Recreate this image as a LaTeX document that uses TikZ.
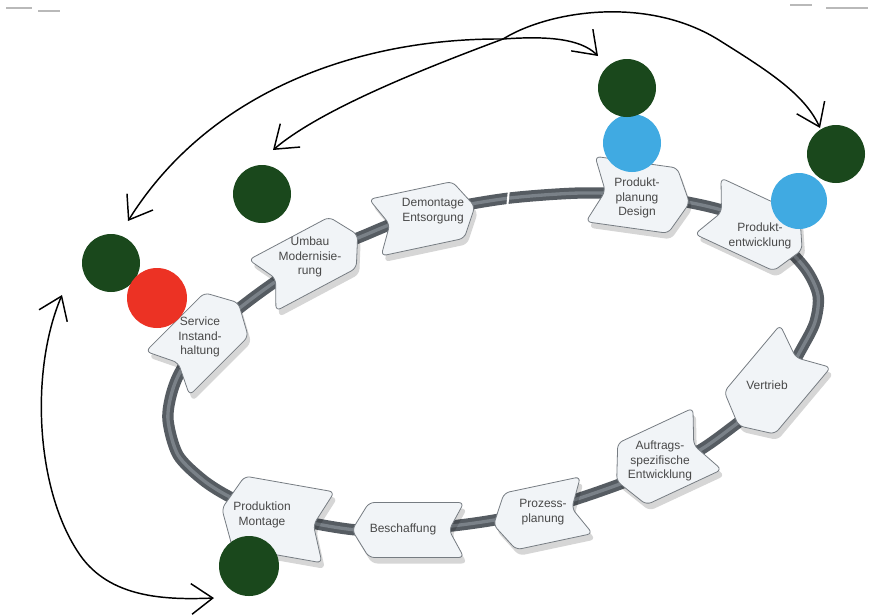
\documentclass[tikz,border=0pt]{standalone}
\usepackage{fontspec}
\setmainfont{Liberation Sans}
\usetikzlibrary{arrows.meta}
\definecolor{dgreen}{RGB}{26,72,28}
\definecolor{lblue}{RGB}{64,170,226}
\definecolor{cred}{RGB}{236,50,36}
\definecolor{ringdark}{RGB}{86,92,98}
\definecolor{ringlight}{RGB}{122,129,136}
\definecolor{chevfill}{RGB}{241,244,247}
\definecolor{chevline}{RGB}{118,124,130}
\definecolor{txt}{RGB}{72,72,72}
\tikzset{
  chevbody/.style={fill=chevfill, draw=chevline, line width=0.6pt, rounded corners=4pt},
  chevshadow/.style={fill=black, opacity=0.16, rounded corners=4pt},
  lbl/.style={font=\fontsize{9}{11}\selectfont, text=txt, align=center, inner sep=0pt},
  circ/.style={circle, inner sep=0pt, draw=none, minimum size=#1},
  hbarb/.tip={Straight Barb[length=16pt,width=23pt]},
  conn/.style={draw=black, line width=1.1pt, line cap=round, -{hbarb}},
  dconn/.style={draw=black, line width=1.1pt, line cap=round, {hbarb}-{hbarb}}
}
% width, height
\newcommand{\chevpath}[2]{({-#1/2},{#2/2}) -- ({#1/2-17},{#2/2}) -- ({#1/2},0) -- ({#1/2-17},{-#2/2}) -- ({-#1/2},{-#2/2}) -- ({-#1/2+15},0) -- cycle}
% x, y, angle, width, height
\newcommand{\chevron}[5]{%
  \begin{scope}[shift={({#1+3},{#2+6})},rotate=#3]
    \fill[chevshadow] \chevpath{#4}{#5};
  \end{scope}
  \begin{scope}[shift={(#1,#2)},rotate=#3]
    \draw[chevbody] \chevpath{#4}{#5};
  \end{scope}}
\begin{document}
\begin{tikzpicture}[x=0.75pt,y=-0.75pt]
\useasboundingbox (0,0) rectangle (870,615);
\fill[white] (0,0) rectangle (870,615);
% header marks
\draw[gray!55, line width=1.2pt] (6,8) -- (32,8);
\draw[gray!55, line width=0.8pt] (38,11) -- (60,11);
\draw[gray!55, line width=0.8pt] (790,5) -- (812,5);
\draw[gray!55, line width=0.8pt] (826,8) -- (868,8);
% ring
\def\ringpts{(450,208) (510,198) (580,193) (640,195) (687,202) (730,213) (775,238) (805,268) (818,295) (815,322) (802,348) (783,380) (760,405) (735,425) (700,450) (660,468) (620,484) (580,498) (540,510) (500,519) (460,525) (410,530) (357,530) (307,522) (262,510) (230,497) (203,480) (178,455) (168,420) (172,392) (183,367) (210,333) (250,300) (290,272) (330,250) (365,235) (400,221)}
\draw[ringdark, line width=8.5pt] plot[smooth cycle, tension=0.5] coordinates {\ringpts};
\draw[ringlight, line width=2.5pt] plot[smooth cycle, tension=0.5] coordinates {\ringpts};
\draw[white, line width=1.5pt] (509,189) -- (507,209);
% chevrons
\chevron{203}{338}{45}{100}{62}
\chevron{310}{260}{28}{108}{58}
\chevron{425}{217}{12}{102}{58}
\chevron{640}{196}{-8}{100}{66}
\chevron{755}{228}{-25}{104}{62}
\chevron{772}{386}{-130}{104}{66}
\chevron{662}{460}{205}{100}{68}
\chevron{540}{515}{192}{95}{58}
\chevron{408}{530}{180}{112}{55}
\chevron{275}{518}{170}{108}{72}
% labels
\node[lbl] (service) at (200,337) {Service\\Instand-\\haltung};
\node[lbl] (umbau) at (310,257) {Umbau\\Modernisie-\\rung};
\node[lbl] (demontage) at (433,211) {Demontage\\Entsorgung};
\node[lbl] (planung) at (637,198) {Produkt-\\planung\\Design};
\node[lbl] (entwicklung) at (760,236) {Produkt-\\entwicklung};
\node[lbl] (vertrieb) at (767,385) {Vertrieb};
\node[lbl] (auftrag) at (660,461) {Auftrags-\\spezifische\\Entwicklung};
\node[lbl] (prozess) at (543,512) {Prozess-\\planung};
\node[lbl] (beschaffung) at (403,529) {Beschaffung};
\node[lbl] (produktion) at (262,515) {Produktion\\Montage};
% circles
\node[circ=43.5pt, fill=lblue] (b1) at (632,143) {};
\node[circ=43.5pt, fill=dgreen] (g1) at (627,88) {};
\node[circ=42pt, fill=lblue] (b2) at (799,201) {};
\node[circ=43.5pt, fill=dgreen] (g2) at (836,154) {};
\node[circ=43.5pt, fill=dgreen] (g3) at (262,194) {};
\node[circ=43.5pt, fill=dgreen] (g4) at (111,263) {};
\node[circ=45pt, fill=cred] (r1) at (157,298) {};
\node[circ=45pt, fill=dgreen] (g5) at (249,566) {};
% connector points
\coordinate (hub) at (503,39);
\coordinate (tA) at (598,56);
\coordinate (tB) at (820,128);
\coordinate (tC) at (273,150);
\coordinate (tD) at (128,221);
\coordinate (tE) at (62,295);
\coordinate (tF) at (214,598);
\coordinate (kB) at (722,42);
\coordinate (kE) at (80,555);
% connectors
\draw[conn] (hub) .. controls (545,36) and (580,38) .. (tA);
\draw[conn] (hub) .. controls (550,10) and (650,-5) .. (kB) .. controls (770,72) and (805,95) .. (tB);
\draw[conn] (hub) .. controls (420,70) and (320,110) .. (tC);
\draw[conn] (hub) .. controls (360,38) and (210,90) .. (tD);
\draw[dconn] (tE) .. controls (30,370) and (35,490) .. (kE) .. controls (110,598) and (165,600) .. (tF);
\end{tikzpicture}
\end{document}
